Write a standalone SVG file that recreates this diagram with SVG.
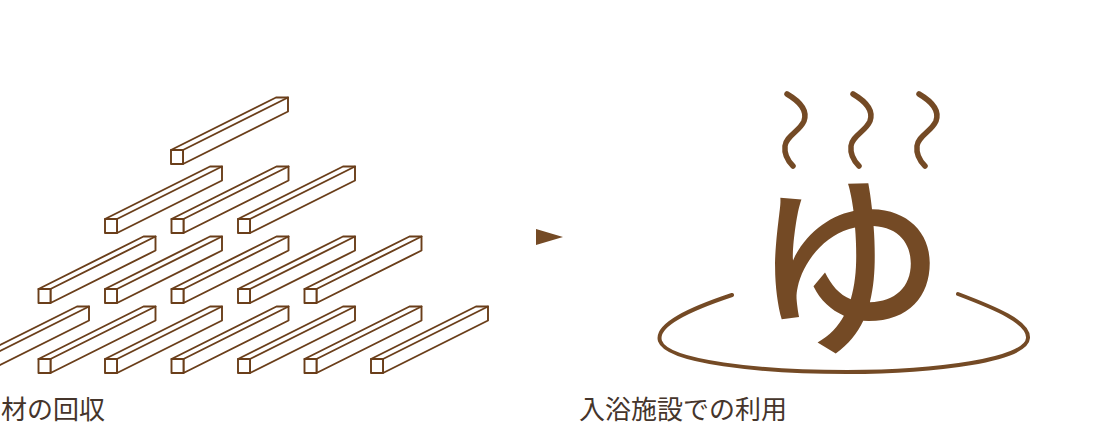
<svg xmlns="http://www.w3.org/2000/svg" xmlns:xlink="http://www.w3.org/1999/xlink" width="1109" height="430" viewBox="0 0 1109 430">
  <style>
    .beam { fill: #ffffff; stroke: #6a3e1a; stroke-width: 1.9; stroke-linejoin: round; stroke-linecap: round; }
    .steam { fill: none; stroke: #744a25; stroke-width: 5.5; stroke-linecap: round; }
    .bowl { fill: none; stroke: #744a25; stroke-width: 4; stroke-linecap: round; }
    .label { font-family: "Noto Sans CJK JP", "Noto Sans", sans-serif; font-size: 26px; fill: #45352b; }
    .yu { font-family: "Noto Sans CJK JP", sans-serif; font-weight: 500; fill: #744a25; }
  </style>
  <defs>
    <!-- square timber seen obliquely: front end face at the origin, body running up-right -->
    <g id="beam">
      <path class="beam" d="M0 0 L105 -52.5 L117 -52.5 L117 -38.5 L12 14 L12 0 Z"/>
      <path class="beam" d="M12 0 L117 -52.5"/>
      <rect class="beam" x="0" y="0" width="12" height="14"/>
    </g>
  </defs>

  <!-- stacked timber -->
  <g id="timber">
    <g id="row1"><use xlink:href="#beam" x="171" y="150"/></g>
    <g id="row2">
      <use xlink:href="#beam" x="105" y="219"/>
      <use xlink:href="#beam" x="171.5" y="219"/>
      <use xlink:href="#beam" x="238" y="219"/>
    </g>
    <g id="row3">
      <use xlink:href="#beam" x="38.5" y="289"/>
      <use xlink:href="#beam" x="105" y="289"/>
      <use xlink:href="#beam" x="171.5" y="289"/>
      <use xlink:href="#beam" x="238" y="289"/>
      <use xlink:href="#beam" x="304.5" y="289"/>
    </g>
    <g id="row4">
      <use xlink:href="#beam" x="-28" y="359"/>
      <use xlink:href="#beam" x="38.5" y="359"/>
      <use xlink:href="#beam" x="105" y="359"/>
      <use xlink:href="#beam" x="171.5" y="359"/>
      <use xlink:href="#beam" x="238" y="359"/>
      <use xlink:href="#beam" x="304.5" y="359"/>
      <use xlink:href="#beam" x="371" y="359"/>
    </g>
  </g>
  <g id="label-left"><text class="label" x="1" y="419">材の回収</text></g>

  <!-- arrow between the two panels -->
  <g id="connectors">
    <polygon points="536,229 563,237 536,245" fill="#744a25"/>
  </g>

  <!-- hot bath mark -->
  <g id="bath">
    <g id="steam">
      <path class="steam" d="M787 94 C799 101 808 110 804 121 C800 131 786 136 785 146 C784 155 788 161 793 166"/>
      <path class="steam" d="M853 94 C865 101 874 110 870 121 C866 131 852 136 851 146 C850 155 854 161 859 166"/>
      <path class="steam" d="M919 94 C931 101 940 110 936 121 C932 131 918 136 917 146 C916 155 920 161 925 166"/>
    </g>
    <path class="bowl" d="M732 295 C690 309 655 325 660 341 C667 362 760 372 847 372 C935 372 1027 360 1028 338 C1029 322 995 308 958 294"/>
    <text class="yu" x="849" y="340" font-size="195" text-anchor="middle">ゆ</text>
  </g>
  <g id="label-right"><text class="label" x="579" y="419">入浴施設での利用</text></g>
</svg>
